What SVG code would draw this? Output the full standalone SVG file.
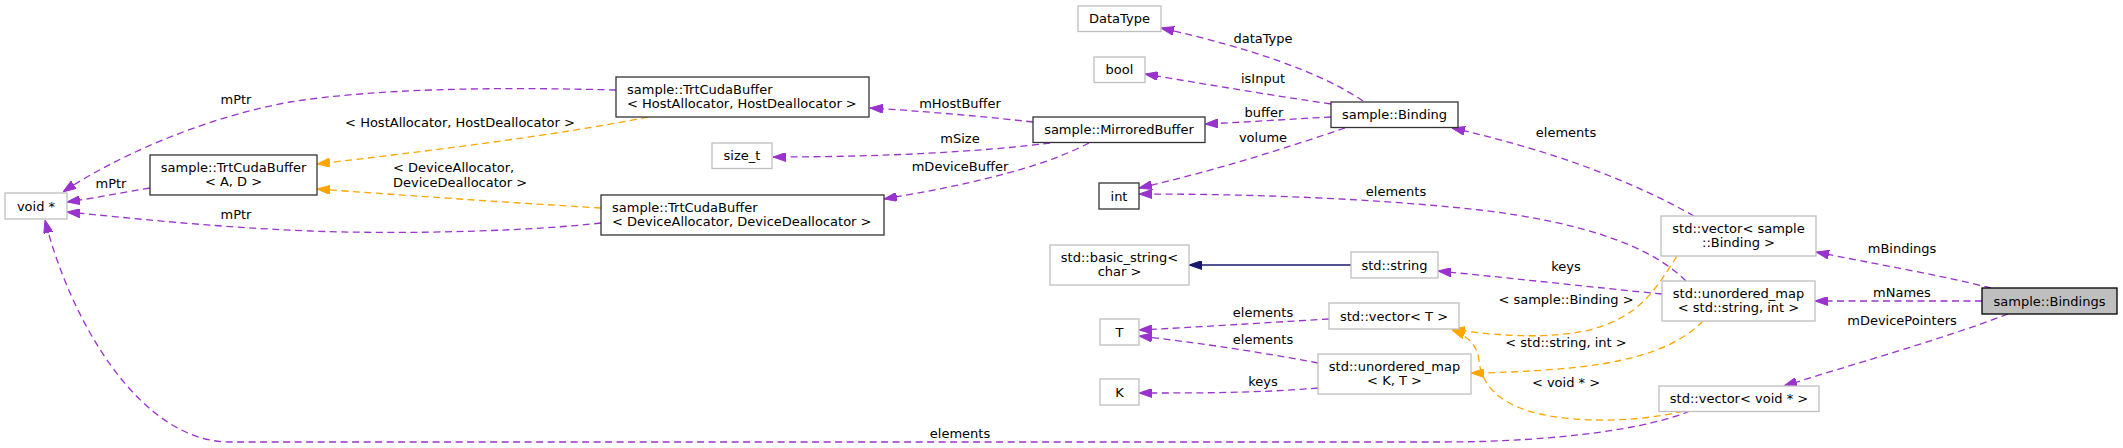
<svg xmlns="http://www.w3.org/2000/svg" width="2123" height="448" viewBox="0 0 2123 448">
<style>
text{font-family:"DejaVu Sans","Liberation Sans",sans-serif;font-size:13px;fill:#000}
.c{text-anchor:middle}
.bk{fill:#fff;stroke:#333;stroke-width:1.3}
.gr{fill:#fff;stroke:#bfbfbf;stroke-width:1.3}
.root{fill:#bfbfbf;stroke:#000;stroke-width:1.3}
.u{fill:none;stroke:#9a32cd;stroke-width:1.3;stroke-dasharray:7,4.5;marker-end:url(#ap)}
.t{fill:none;stroke:#ffa500;stroke-width:1.3;stroke-dasharray:7,4.5;marker-end:url(#ao)}
.i{fill:none;stroke:#191970;stroke-width:1.3;marker-end:url(#ab)}
</style>
<defs>
<marker id="ap" viewBox="0 0 13 9" refX="13" refY="4.5" markerWidth="13" markerHeight="9" orient="auto" markerUnits="userSpaceOnUse"><path d="M0,0 L13,4.5 L0,9 z" fill="#9a32cd" stroke="#9a32cd"/></marker>
<marker id="ao" viewBox="0 0 13 9" refX="13" refY="4.5" markerWidth="13" markerHeight="9" orient="auto" markerUnits="userSpaceOnUse"><path d="M0,0 L13,4.5 L0,9 z" fill="#ffa500" stroke="#ffa500"/></marker>
<marker id="ab" viewBox="0 0 13 9" refX="13" refY="4.5" markerWidth="13" markerHeight="9" orient="auto" markerUnits="userSpaceOnUse"><path d="M0,0 L13,4.5 L0,9 z" fill="#191970" stroke="#191970"/></marker>
</defs>
<rect width="2123" height="448" fill="#fff"/>
<g id="connectors">
<path class="u" d="M616,90 C500,87 380,88 290,102 C200,118 110,160 63,192"/>
<path class="u" d="M150,188 C120,193 95,198 67,202"/>
<path class="u" d="M601,223 C540,230 420,235 310,231 C210,227 130,218 67,212"/>
<path class="u" d="M1690,411 C1650,428 1560,442 1440,442 L230,442 C140,442 70,320 45,220"/>
<path class="t" d="M648,117 C560,135 420,152 317,164"/>
<path class="t" d="M601,208 C500,202 400,195 317,189"/>
<path class="u" d="M1033,122 C980,116 920,111 870,108"/>
<path class="u" d="M1050,143 C980,152 880,157 773,157"/>
<path class="u" d="M1089,143 C1060,158 1010,178 884,199"/>
<path class="u" d="M1331,117 C1290,119 1250,122 1205,124"/>
<path class="u" d="M1363,101 C1320,72 1250,48 1161,28"/>
<path class="u" d="M1331,104 C1270,95 1210,85 1145,74"/>
<path class="u" d="M1345,128 C1280,150 1210,172 1139,188"/>
<path class="u" d="M1686,281 C1650,245 1580,222 1480,210 C1370,198 1250,194 1139,194"/>
<path class="u" d="M1694,216 C1630,180 1550,150 1452,128"/>
<path class="u" d="M1662,294 C1600,288 1520,279 1438,271"/>
<path class="i" d="M1351,265 L1189,265"/>
<path class="u" d="M1991,288 C1940,275 1870,263 1816,252"/>
<path class="u" d="M1982,301 L1815,301"/>
<path class="u" d="M2008,314 C1940,340 1850,365 1784,386"/>
<path class="u" d="M1329,319 C1260,323 1200,327 1139,330"/>
<path class="u" d="M1318,363 C1260,352 1200,343 1139,336"/>
<path class="u" d="M1318,388 C1260,393 1200,393 1139,393"/>
<path class="t" d="M1677,256 C1655,290 1640,318 1585,331 C1545,339 1495,336 1452,329"/>
<path class="t" d="M1703,321 C1680,345 1640,360 1580,367 C1540,371 1500,373 1471,373"/>
<path class="t" d="M1683,411 C1640,422 1580,423 1540,414 C1500,405 1481,385 1479,360 C1477,345 1468,336 1452,330"/>
<text class="c" x="236" y="104">mPtr</text>
<text class="c" x="460" y="127">&lt; HostAllocator, HostDeallocator &gt;</text>
<text class="c" x="111" y="188">mPtr</text>
<text x="393" y="172">&lt; DeviceAllocator,</text>
<text x="393" y="187">DeviceDeallocator &gt;</text>
<text class="c" x="236" y="219">mPtr</text>
<text class="c" x="960" y="108">mHostBuffer</text>
<text class="c" x="960" y="143">mSize</text>
<text class="c" x="960" y="171">mDeviceBuffer</text>
<text class="c" x="1263" y="43">dataType</text>
<text class="c" x="1263" y="83">isInput</text>
<text class="c" x="1264" y="117">buffer</text>
<text class="c" x="1263" y="142">volume</text>
<text class="c" x="1396" y="196">elements</text>
<text class="c" x="1566" y="137">elements</text>
<text class="c" x="1566" y="271">keys</text>
<text class="c" x="1566" y="304">&lt; sample::Binding &gt;</text>
<text class="c" x="1566" y="347">&lt; std::string, int &gt;</text>
<text class="c" x="1566" y="387">&lt; void * &gt;</text>
<text class="c" x="1902" y="253">mBindings</text>
<text class="c" x="1902" y="297">mNames</text>
<text class="c" x="1902" y="325">mDevicePointers</text>
<text class="c" x="1263" y="317">elements</text>
<text class="c" x="1263" y="344">elements</text>
<text class="c" x="1263" y="386">keys</text>
<text class="c" x="960" y="438">elements</text>
</g>
<g id="n_bindings"><rect class="root" x="1982" y="288" width="135" height="26"/><text class="c" x="2049.5" y="305.5">sample::Bindings</text></g>
<g id="n_vec_binding"><rect class="gr" x="1661" y="216" width="155" height="40"/><text class="c" x="1738.5" y="232.5">std::vector&lt; sample</text><text class="c" x="1738.5" y="247">::Binding &gt;</text></g>
<g id="n_umap_str_int"><rect class="gr" x="1662" y="281" width="153" height="40"/><text class="c" x="1738.5" y="297.5">std::unordered_map</text><text class="c" x="1738.5" y="312">&lt; std::string, int &gt;</text></g>
<g id="n_vec_voidp"><rect class="gr" x="1659" y="386" width="160" height="25.5"/><text class="c" x="1739" y="403">std::vector&lt; void * &gt;</text></g>
<g id="n_binding"><rect class="bk" x="1331" y="102" width="127" height="25.5"/><text class="c" x="1394.5" y="119">sample::Binding</text></g>
<g id="n_string"><rect class="gr" x="1351" y="252" width="87" height="26"/><text class="c" x="1394.5" y="269.5">std::string</text></g>
<g id="n_vec_T"><rect class="gr" x="1329" y="303" width="130" height="26"/><text class="c" x="1394" y="320.5">std::vector&lt; T &gt;</text></g>
<g id="n_umap_KT"><rect class="gr" x="1318" y="354" width="153" height="40"/><text class="c" x="1394.5" y="370.5">std::unordered_map</text><text class="c" x="1394.5" y="385">&lt; K, T &gt;</text></g>
<g id="n_datatype"><rect class="gr" x="1078" y="6" width="83" height="25.5"/><text class="c" x="1119.5" y="23">DataType</text></g>
<g id="n_bool"><rect class="gr" x="1094" y="57" width="51" height="25.5"/><text class="c" x="1119.5" y="74">bool</text></g>
<g id="n_mirrored"><rect class="bk" x="1033" y="117" width="172" height="25.5"/><text class="c" x="1119" y="134">sample::MirroredBuffer</text></g>
<g id="n_int"><rect class="bk" x="1099" y="183" width="40" height="26"/><text class="c" x="1119" y="200.5">int</text></g>
<g id="n_basic_string"><rect class="gr" x="1050" y="245" width="139" height="40"/><text class="c" x="1119.5" y="261.5">std::basic_string&lt;</text><text class="c" x="1119.5" y="276">char &gt;</text></g>
<g id="n_T"><rect class="gr" x="1100" y="319" width="39" height="26"/><text class="c" x="1119.5" y="336.5">T</text></g>
<g id="n_K"><rect class="gr" x="1100" y="379" width="39" height="26"/><text class="c" x="1119.5" y="396.5">K</text></g>
<g id="n_host"><rect class="bk" x="616" y="77" width="253" height="40"/><text x="627" y="93.5">sample::TrtCudaBuffer</text><text x="627" y="108">&lt; HostAllocator, HostDeallocator &gt;</text></g>
<g id="n_size_t"><rect class="gr" x="712" y="143" width="60" height="25.5"/><text class="c" x="742" y="160">size_t</text></g>
<g id="n_device"><rect class="bk" x="601" y="195" width="283" height="40"/><text x="612" y="211.5">sample::TrtCudaBuffer</text><text x="612" y="226">&lt; DeviceAllocator, DeviceDeallocator &gt;</text></g>
<g id="n_trtcuda_AD"><rect class="bk" x="150" y="155" width="167" height="40"/><text class="c" x="233.5" y="171.5">sample::TrtCudaBuffer</text><text class="c" x="233.5" y="186">&lt; A, D &gt;</text></g>
<g id="n_voidp"><rect class="gr" x="5" y="193" width="62" height="26"/><text class="c" x="36" y="210.5">void *</text></g>
</svg>
